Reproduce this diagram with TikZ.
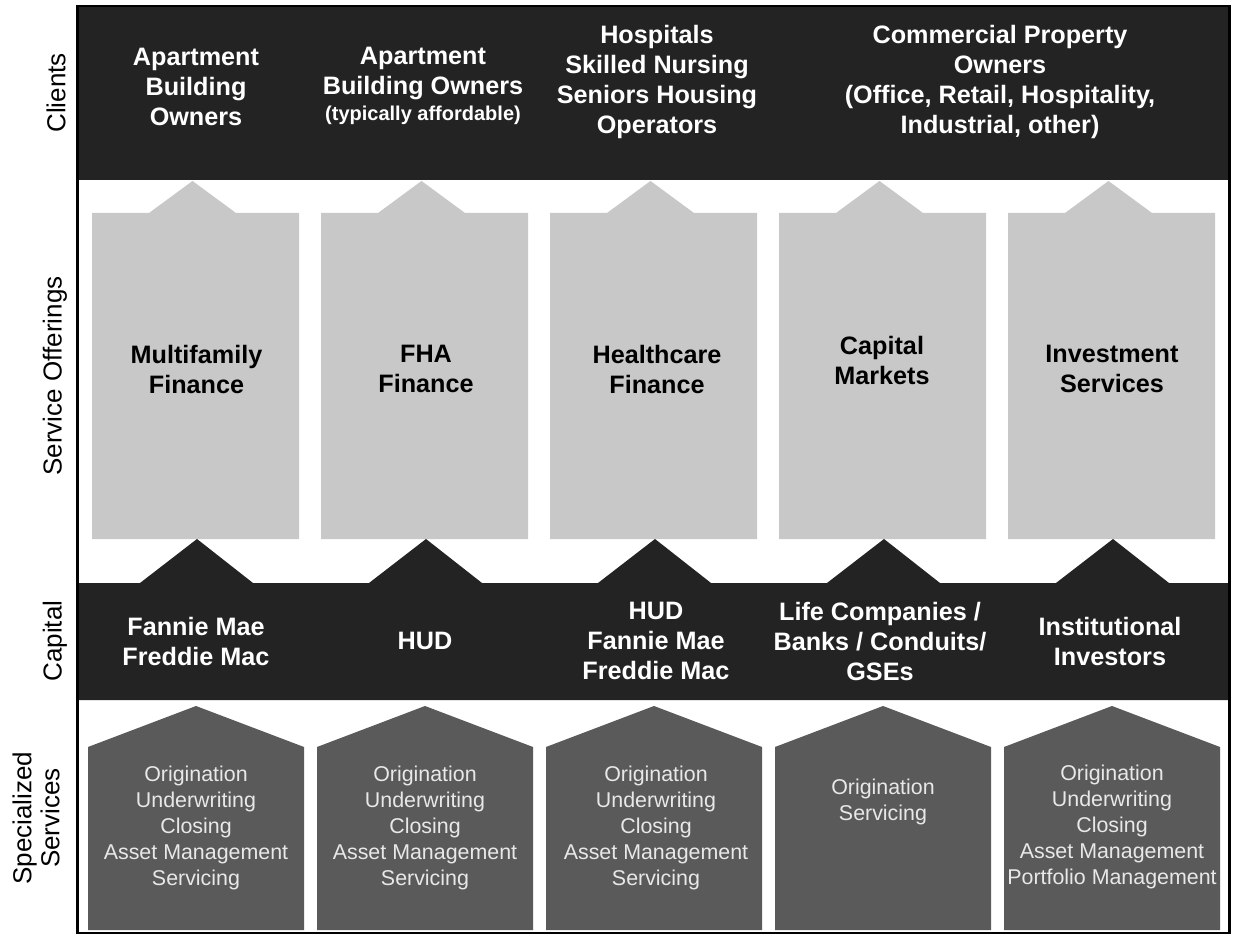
\documentclass[tikz,border=0pt]{standalone}
\usepackage{fontspec}
\setmainfont{Liberation Sans}
\definecolor{band}{HTML}{232323}
\definecolor{offer}{HTML}{C8C8C8}
\definecolor{house}{HTML}{5A5A5A}
\definecolor{housetxt}{HTML}{E8E8E8}
\tikzset{
  bandtext/.style={text=white, font=\bfseries\fontsize{12.6}{15}\selectfont, align=center, inner sep=0pt},
  offertext/.style={text=black, font=\bfseries\fontsize{12.6}{15}\selectfont, align=center, inner sep=0pt},
  housetext/.style={text=housetxt, font=\fontsize{10.7}{13}\selectfont, align=center, inner sep=0pt},
  sidelabel/.style={rotate=90, font=\fontsize{13}{14}\selectfont, align=center, inner sep=0pt},
  offerbox/.style={fill=offer},
  housebox/.style={fill=house},
  bandfill/.style={fill=band}
}
\begin{document}
\begin{tikzpicture}[x=0.5pt,y=-0.5pt]
\useasboundingbox (0,0) rectangle (1233,936);
\fill[white] (0,0) rectangle (1233,936);
% clients band
\fill[bandfill] (77,6) rectangle (1230,180);
% service offering boxes with upward arrows
\foreach \i in {0,...,4}{
  \pgfmathsetmacro\L{92+229*\i}
  \path[offerbox] (\L,213) -- (\L+57,213) -- (\L+100.5,181) -- (\L+144,213) -- (\L+207,213)
     -- (\L+207,539) -- (\L,539) -- cycle;
}
% capital band with upward arrows
\path[bandfill] (77,583)
  \foreach \i in {0,...,4}{ -- ({140+229*\i},583) -- ({197+229*\i},539) -- ({253+229*\i},583) }
  -- (1230,583) -- (1230,700) -- (77,700) -- cycle;
% specialized services houses
\foreach \i in {0,...,4}{
  \pgfmathsetmacro\l{88+229*\i}
  \path[housebox] (\l,930) -- (\l,747) -- (\l+108,706) -- (\l+216,747) -- (\l+216,930) -- cycle;
}
% frame
\draw[line width=1.2pt] (77.5,6) rectangle (1229.5,933);

% side labels
\node[sidelabel] (lclients) at (56,93) {Clients};
\node[sidelabel] (loffer) at (55,376) {Service Offerings};
\node[sidelabel] (lcapital) at (55,641) {Capital};
\node[sidelabel] (lspec) at (36,818) {Specialized\\Services};

% clients
\node[bandtext] (c1) at (196,87) {Apartment\\Building\\Owners};
\node[bandtext] (c2) at (423,86) {Apartment\\Building Owners\\[-2pt]{\fontsize{10}{12}\selectfont (typically affordable)}};
\node[bandtext] (c3) at (657,82) {Hospitals\\Skilled Nursing\\Seniors Housing\\Operators};
\node[bandtext] (c4) at (1000,82) {Commercial Property\\Owners\\(Office, Retail, Hospitality,\\Industrial, other)};

% service offerings
\node[offertext] (s1) at (196.5,369) {Multifamily\\Finance};
\node[offertext] (s2) at (426,369) {FHA\\Finance};
\node[offertext] (s3) at (657,369) {Healthcare\\Finance};
\node[offertext] (s4) at (882,360) {Capital\\Markets};
\node[offertext] (s5) at (1112,369) {Investment\\Services};

% capital
\node[bandtext] (k1) at (196,641) {Fannie Mae\\Freddie Mac};
\node[bandtext] (k2) at (425,641) {HUD};
\node[bandtext] (k3) at (656,641) {HUD\\Fannie Mae\\Freddie Mac};
\node[bandtext] (k4) at (880,641) {Life Companies /\\Banks / Conduits/\\GSEs};
\node[bandtext] (k5) at (1110,641) {Institutional\\Investors};

% specialized services
\node[housetext] (h1) at (196,828) {Origination\\Underwriting\\Closing\\Asset Management\\Servicing};
\node[housetext] (h2) at (425,828) {Origination\\Underwriting\\Closing\\Asset Management\\Servicing};
\node[housetext] (h3) at (656,828) {Origination\\Underwriting\\Closing\\Asset Management\\Servicing};
\node[housetext] (h4) at (883,802) {Origination\\Servicing};
\node[housetext] (h5) at (1112,827) {Origination\\Underwriting\\Closing\\Asset Management\\Portfolio Management};
\end{tikzpicture}
\end{document}
